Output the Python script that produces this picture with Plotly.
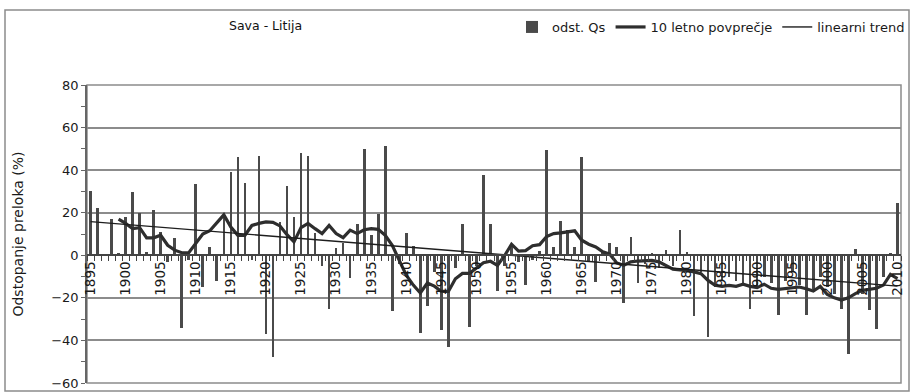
import plotly.graph_objects as go

years = list(range(1895, 2011))
deviation = [
    30, 22, 0.5, 17, 1, 18, 29.5, 20, 1.5, 21.5,            # 1895-1904
    11, -3, 8, -34, -2, 33.5, -15, 4, -12, 18,              # 1905-1914
    39, 46, 34, -2, 46.5, -37, -48, 15.5, 32.5, 18,         # 1915-1924
    48, 46.5, 10.5, -5, -25, 3.5, 6, -10.5, 14.8, 50,       # 1925-1934
    9.5, 19.5, 51.5, -26, -4, 10.5, 4.5, -36.5, -24, -8,    # 1935-1944
    -35, -43, -6, 14.5, -33.5, -5, 37.6, 14.8, -17, -5,     # 1945-1954
    5.5, -3, -14, -2, 2, 49.5, 3.8, 16, 11.8, 4,            # 1955-1964
    46, -3, -12.5, 2, 5.7, 3.8, -22.4, 8.6, -12.9, -4,      # 1965-1974
    1.3, -6, 2.6, -5, 11.8, 1.6, -28.3, -8, -38.2, -15,     # 1975-1984
    -12, -10, -12, -14, -25.3, -15, -10, -13, -28.2, -12,   # 1985-1994
    -8, -14, -28.2, -16, -10, -15, -18, -25.3, -46.3, 3.1,  # 1995-2004
    -18, -25.6, -34.5, -10, 1.3, 24.7,                      # 2005-2010
]

ma_years = list(range(1899, 2011))
ma_values = [
    17, 15, 12.5, 13, 8.2, 8.2, 9.4, 4.7, 2.4, 1.2,          # 1899-1908
    1.2, 5.5, 10, 11.5, 15, 19, 13.3, 9.4, 9.4, 14,          # 1909-1918
    15, 15.7, 15.5, 13.8, 9.7, 6.3, 13, 15, 12.5, 10.2,      # 1919-1928
    14, 10.2, 8.3, 11.8, 10.2, 12, 12.5, 12.2, 9.4, 4.7,     # 1929-1938
    -2.4, -9.4, -14, -17.7, -13, -14.5, -17, -17, -11, -8.5, # 1939-1948
    -8.5, -6, -3.5, -2.8, -4.7, -0.2, 5.2, 2, 2.2, 4.5,      # 1949-1958
    5, 8.8, 10.2, 10.5, 11, 11.5, 7.1, 5.2, 3.9, 1.6,        # 1959-1968
    0.5, -3.6, -4.7, -3.1, -2.7, -2.4, -2.4, -3.1, -4.9, -6.5,  # 1969-1978
    -6.9, -7.1, -7.8, -8.6, -11.8, -14.1, -14.6, -14.1, -14.6, -13.6,  # 1979-1988
    -14.6, -15.2, -13.6, -15.5, -16, -15.7, -15.2, -14.9, -15.7, -16.8,  # 1989-1998
    -14.6, -18.4, -20, -21, -20, -18, -16.5, -16, -15.5, -14,  # 1999-2008
    -9, -11,                                                 # 2009-2010
]

trend_years = [1895, 2010]
trend_values = [15.8, -14.5]

tick_years = list(range(1895, 2011, 5))
tick_labels = [str(y) for y in tick_years]

y_min, y_max = -60, 80
FONT = "DejaVu Sans, Liberation Sans, Arial, sans-serif"

# plot area in pixels
L, R, T, B = 87, 901, 85, 383
W, H = 914, 392
pw, ph = R - L, B - T


def px_x(x):
    return (x - L) / pw


def px_y(y):
    return (B - y) / ph


fig = go.Figure()
fig.add_trace(go.Bar(
    x=years, y=deviation, width=0.38, name="odst. Qs",
    marker=dict(color="#4a4a4a", line=dict(width=0)),
))
fig.add_trace(go.Scatter(
    x=ma_years, y=ma_values, mode="lines", name="10 letno povprečje",
    line=dict(color="#2e2e2e", width=3.2),
))
fig.add_trace(go.Scatter(
    x=trend_years, y=trend_values, mode="lines", name="linearni trend",
    line=dict(color="#1e1e1e", width=1.4),
))

zero_pos = (0 - y_min) / (y_max - y_min)

fig.update_layout(
    width=W, height=H,
    margin=dict(l=L, r=W - R, t=T, b=H - B, autoexpand=False),
    paper_bgcolor="white", plot_bgcolor="white",
    font=dict(family=FONT, color="#1a1a1a", size=12),
    bargap=0,
    showlegend=True,
    legend=dict(
        orientation="h", x=px_x(910), xanchor="right",
        y=px_y(27), yanchor="middle",
        font=dict(size=13, family=FONT, color="#1a1a1a"),
        bgcolor="rgba(0,0,0,0)",
    ),
    xaxis=dict(
        type="linear", range=[1894.5, 2010.5],
        anchor="free", position=zero_pos,
        showline=True, linecolor="#444", linewidth=1.5,
        showgrid=False, zeroline=False,
        tickmode="array", tickvals=tick_years, ticktext=tick_labels,
        tickangle=-90, ticks="", tickfont=dict(size=13.5, family=FONT, color="#1a1a1a"),
        minor=dict(tickmode="linear", tick0=1894.5, dtick=1, ticks="outside",
                   ticklen=5, tickcolor="#444", tickwidth=1, showgrid=False),
    ),
    yaxis=dict(
        range=[y_min, y_max], tickmode="linear", tick0=-60, dtick=20,
        showline=True, linecolor="#666", linewidth=1.5,
        showgrid=True, gridcolor="#8c8c8c", gridwidth=1.5,
        zeroline=False,
        ticks="outside", ticklen=4, tickcolor="#666",
        tickfont=dict(size=13, family=FONT, color="#1a1a1a"),
        minor=dict(tickmode="linear", tick0=-50, dtick=20, ticks="outside",
                   ticklen=4, tickcolor="#666", showgrid=False),
        title=dict(text="Odstopanje preloka (%)", standoff=24,
                   font=dict(size=14, family=FONT, color="#1a1a1a")),
        automargin=False,
    ),
    shapes=[
        # plot area frame
        dict(type="rect", xref="paper", yref="paper", x0=0, x1=1, y0=0, y1=1,
             line=dict(color="#8c8c8c", width=1.5), layer="below"),
        # chart area border
        dict(type="rect", xref="paper", yref="paper",
             x0=px_x(5), x1=px_x(909), y0=px_y(391), y1=px_y(10),
             line=dict(color="#8c8c8c", width=1.5)),
    ],
    annotations=[
        dict(text="Sava - Litija", xref="paper", yref="paper",
             x=px_x(265), y=px_y(25), showarrow=False,
             xanchor="center", yanchor="middle",
             font=dict(size=12.5, family=FONT, color="#111")),
    ],
)

fig.write_html("out.html", config={"displayModeBar": False},
               post_script="document.body.style.margin='0px';")
